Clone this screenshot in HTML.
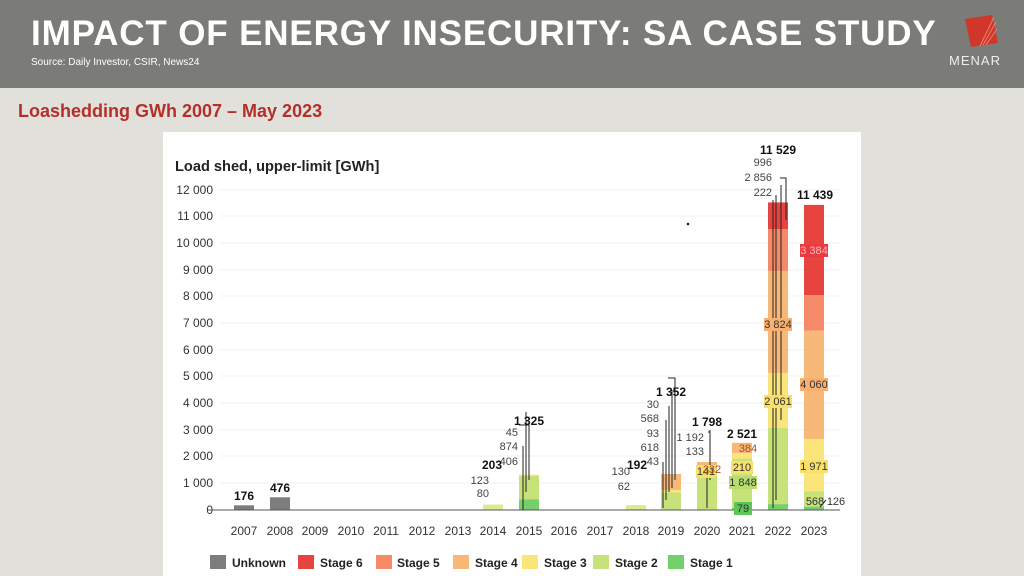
<!DOCTYPE html>
<html><head><meta charset="utf-8"><style>
body{margin:0;width:1024px;height:576px;overflow:hidden;background:#e1e0da;font-family:"Liberation Sans",sans-serif;}
.hd{position:absolute;left:0;top:0;width:1024px;height:88px;background:#7b7b78;}
.t{position:absolute;left:31px;top:14px;color:#fff;font-weight:bold;font-size:35px;letter-spacing:0.85px;white-space:nowrap;}
.s{position:absolute;left:31px;top:57px;color:#fff;font-size:10px;}
.sub{position:absolute;left:18px;top:101px;color:#b3302a;font-weight:bold;font-size:18px;}
</style></head><body>
<div class="hd"></div>
<div class="t">IMPACT OF ENERGY INSECURITY: SA CASE STUDY</div>
<div class="s">Source: Daily Investor, CSIR, News24</div>
<svg style="position:absolute;left:950px;top:14px" width="50" height="55">
<polygon points="15,5 42,1 48,29 21,33" fill="#d0372a"/>
<path d="M30,32 L44,3 M33,31 L46,8 M36,31 L47,15" stroke="#e88070" stroke-width="1"/>
<text x="25" y="51" text-anchor="middle" font-size="13" fill="#eee" font-family="Liberation Sans" letter-spacing="1">MENAR</text>
</svg>
<div class="sub">Loashedding GWh 2007 – May 2023</div>
<svg style="position:absolute;left:0;top:0" width="1024" height="576" font-family="Liberation Sans">
<rect x="163" y="132" width="698" height="444" fill="#fff"/>
<text x="175" y="171" font-size="14.6" font-weight="bold" fill="#222">Load shed, upper-limit [GWh]</text>
<g font-size="12" fill="#333" text-anchor="end">
<text x="213" y="514">0</text><text x="213" y="487">1 000</text><text x="213" y="460">2 000</text><text x="213" y="434">3 000</text><text x="213" y="407">4 000</text><text x="213" y="380">5 000</text><text x="213" y="354">6 000</text><text x="213" y="327">7 000</text><text x="213" y="300">8 000</text><text x="213" y="274">9 000</text><text x="213" y="247">10 000</text><text x="213" y="220">11 000</text><text x="213" y="194">12 000</text>
</g>
<g stroke="#f0f0f0"><line x1="220" x2="840" y1="483" y2="483"/><line x1="220" x2="840" y1="456" y2="456"/><line x1="220" x2="840" y1="430" y2="430"/><line x1="220" x2="840" y1="403" y2="403"/><line x1="220" x2="840" y1="376" y2="376"/><line x1="220" x2="840" y1="350" y2="350"/><line x1="220" x2="840" y1="323" y2="323"/><line x1="220" x2="840" y1="296" y2="296"/><line x1="220" x2="840" y1="270" y2="270"/><line x1="220" x2="840" y1="243" y2="243"/><line x1="220" x2="840" y1="216" y2="216"/><line x1="220" x2="840" y1="190" y2="190"/></g>
<g>
<rect x="234" y="505.3" width="20" height="4.7" fill="#7d7d7d"/>
<rect x="270" y="497.3" width="20" height="12.7" fill="#7d7d7d"/>
<rect x="483" y="504.6" width="20" height="5.4" fill="#dbe98f"/>
<rect x="519" y="499.2" width="20" height="10.8" fill="#74cf6c"/><rect x="519" y="475.9" width="20" height="23.3" fill="#c8e27a"/><rect x="519" y="474.7" width="20" height="1.2" fill="#f9e57a"/>
<rect x="626" y="505" width="20" height="5" fill="#dbe98f"/>
<rect x="661" y="492.4" width="20" height="17.6" fill="#c8e27a"/><rect x="661" y="489.9" width="20" height="2.5" fill="#f9e57a"/><rect x="661" y="474" width="20" height="15.9" fill="#f8b878"/>
<rect x="697" y="474.4" width="20" height="35.6" fill="#c8e27a"/><rect x="697" y="470.9" width="20" height="3.5" fill="#f9e57a"/><rect x="697" y="462" width="20" height="8.9" fill="#f8b878"/>
<rect x="732" y="507.9" width="20" height="2.1" fill="#74cf6c"/><rect x="732" y="458.6" width="20" height="49.3" fill="#c8e27a"/><rect x="732" y="453" width="20" height="5.6" fill="#f9e57a"/><rect x="732" y="442.8" width="20" height="10.2" fill="#f8b878"/>
<rect x="768" y="504.1" width="20" height="5.9" fill="#74cf6c"/><rect x="768" y="427.9" width="20" height="76.2" fill="#c8e27a"/><rect x="768" y="372.9" width="20" height="55" fill="#f9e57a"/><rect x="768" y="270.9" width="20" height="102" fill="#f8b878"/><rect x="768" y="229" width="20" height="41.9" fill="#f48a68"/><rect x="768" y="202.4" width="20" height="26.6" fill="#e8443f"/>
<rect x="804" y="506.6" width="20" height="3.4" fill="#74cf6c"/><rect x="804" y="491.5" width="20" height="15.1" fill="#c8e27a"/><rect x="804" y="438.9" width="20" height="52.6" fill="#f9e57a"/><rect x="804" y="330.6" width="20" height="108.3" fill="#f8b878"/><rect x="804" y="295.1" width="20" height="35.5" fill="#f48a68"/><rect x="804" y="204.9" width="20" height="90.2" fill="#e8443f"/>
</g>
<line x1="208" x2="840" y1="510" y2="510" stroke="#555" stroke-width="1"/>
<g stroke="#222" stroke-width="1" fill="none">
<path d="M523,510 V446 M526,492 V412 M529,480 V452 M519,425 H529 V480"/>
<path d="M663,508 V462 M666,500 V420 M669,492 V406 M672,488 V390 M675,480 V378 H668"/>
<path d="M707,508 V465 M710,480 V430 M708,432 H710"/>
<path d="M773,508 V200 M776,500 V195 M781,420 V185 M786,220 V178 H780"/>
<path d="M750,510 L744,510 M820,507 L826,500"/>
</g>
<g font-size="11" fill="#444" text-anchor="end">
<text x="489" y="497">80</text><text x="489" y="484">123</text>
<text x="630" y="490">62</text><text x="630" y="475">130</text>
<text x="518" y="465">406</text><text x="518" y="450">874</text><text x="518" y="436">45</text>
<text x="659" y="465">43</text><text x="659" y="451">618</text><text x="659" y="437">93</text><text x="659" y="422">568</text><text x="659" y="408">30</text>
<text x="704" y="441">1 192</text><text x="704" y="455">133</text>
<text x="772" y="166">996</text><text x="772" y="181">2 856</text><text x="772" y="196">222</text>
</g>
<g font-size="11" fill="#333" text-anchor="middle">
<rect x="696" y="465" width="20" height="13" fill="#f9e06a"/><text x="706" y="475">141</text>
<rect x="731" y="461" width="22" height="13" fill="#f9e06a"/><text x="742" y="471">210</text>
<rect x="729" y="476" width="28" height="13" fill="#b8dc70"/><text x="743" y="486">1 848</text>
<rect x="734" y="502" width="18" height="13" fill="#5cc65a"/><text x="743" y="512">79</text>
<rect x="764" y="318" width="28" height="13" fill="#f8b070"/><text x="778" y="328">3 824</text>
<rect x="764" y="395" width="28" height="13" fill="#f9e06a"/><text x="778" y="405">2 061</text>
<rect x="800" y="244" width="28" height="13" fill="#e83a40"/><text x="814" y="254" fill="#fbb">3 384</text>
<rect x="800" y="378" width="28" height="13" fill="#f8b070"/><text x="814" y="388">4 060</text>
<rect x="800" y="460" width="28" height="13" fill="#f9e06a"/><text x="814" y="470">1 971</text>
<text x="815" y="505">568</text><text x="836" y="505">126</text>
<text x="748" y="452" fill="#a05020">384</text><text x="712" y="473" fill="#a05020">332</text>
</g>
<g font-size="12" font-weight="bold" fill="#111" text-anchor="middle">
<text x="244" y="500">176</text><text x="280" y="492">476</text><text x="492" y="469">203</text><text x="529" y="425">1 325</text><text x="637" y="469">192</text><text x="671" y="396">1 352</text><text x="707" y="426">1 798</text><text x="742" y="438">2 521</text><text x="778" y="154">11 529</text><text x="815" y="199">11 439</text>
</g>
<g font-size="12" fill="#333" text-anchor="middle">
<text x="244" y="535">2007</text><text x="280" y="535">2008</text><text x="315" y="535">2009</text><text x="351" y="535">2010</text><text x="386" y="535">2011</text><text x="422" y="535">2012</text><text x="458" y="535">2013</text><text x="493" y="535">2014</text><text x="529" y="535">2015</text><text x="564" y="535">2016</text><text x="600" y="535">2017</text><text x="636" y="535">2018</text><text x="671" y="535">2019</text><text x="707" y="535">2020</text><text x="742" y="535">2021</text><text x="778" y="535">2022</text><text x="814" y="535">2023</text>
</g>
<g font-size="12" font-weight="bold" fill="#222">
<rect x="210" y="555" width="16" height="14" fill="#7d7d7d"/><text x="232" y="567">Unknown</text>
<rect x="298" y="555" width="16" height="14" fill="#e8443f"/><text x="320" y="567">Stage 6</text>
<rect x="376" y="555" width="16" height="14" fill="#f48a68"/><text x="397" y="567">Stage 5</text>
<rect x="453" y="555" width="16" height="14" fill="#f8b878"/><text x="475" y="567">Stage 4</text>
<rect x="522" y="555" width="16" height="14" fill="#f9e57a"/><text x="544" y="567">Stage 3</text>
<rect x="593" y="555" width="16" height="14" fill="#c8e27a"/><text x="615" y="567">Stage 2</text>
<rect x="668" y="555" width="16" height="14" fill="#74cf6c"/><text x="690" y="567">Stage 1</text>
</g>
<circle cx="688" cy="224" r="1.3" fill="#222"/>
</svg>
</body></html>
